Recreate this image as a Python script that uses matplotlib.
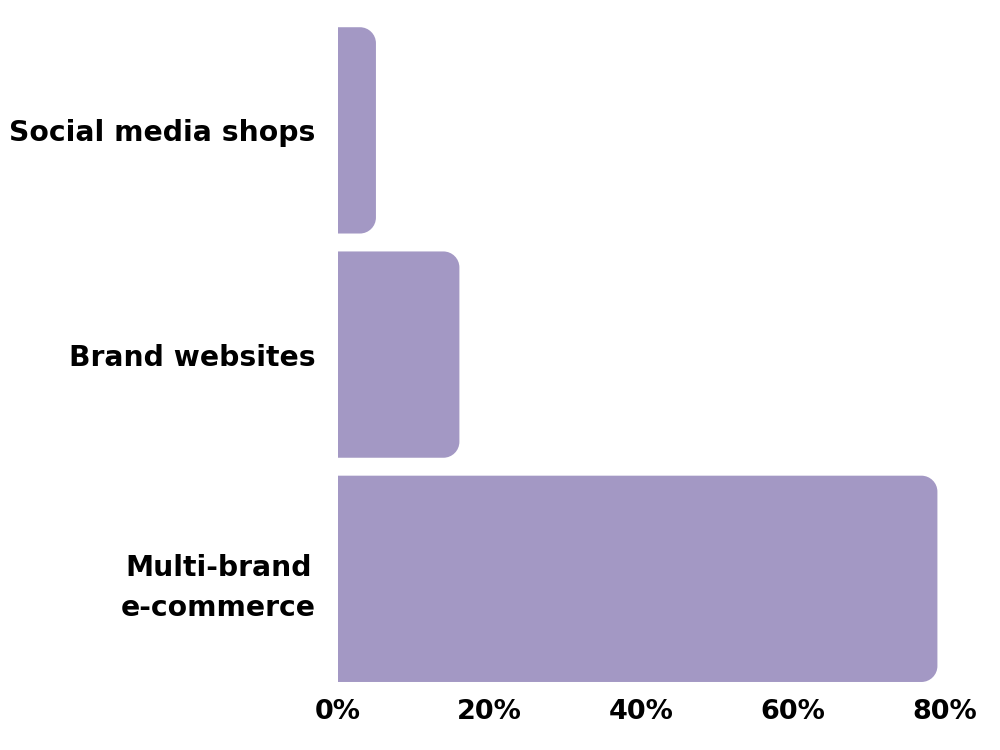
import numpy as np
import matplotlib.pyplot as plt
from matplotlib.path import Path
from matplotlib.patches import PathPatch

categories = ['Social media shops', 'Brand websites', 'Multi-brand\ne-commerce']
values = [5, 16, 79]
ticks = [0, 20, 40, 60, 80]
tick_labels = ['0%', '20%', '40%', '60%', '80%']
color = '#a398c4'

plt.rcParams['font.family'] = ['DejaVu Sans']

fig = plt.figure(figsize=(10, 7.5), dpi=100)
ax = fig.add_axes([0.338, 0.0907, 0.607, 0.873])

ypos = np.arange(len(categories))
bars = ax.barh(ypos, values, height=0.92, color=color)
ax.set_xlim(0, 80)
ax.set_ylim(2.46, -0.46)


def rounded_right(x0, y0, w, h, rx, ry):
    # rectangle with the two right-hand corners rounded
    k = 0.5523
    x1, y1 = x0 + w, y0 + h
    rx = min(rx, w)
    verts = [(x0, y0), (x1 - rx, y0),
             (x1 - rx + k * rx, y0), (x1, y0 + ry - k * ry), (x1, y0 + ry),
             (x1, y1 - ry),
             (x1, y1 - ry + k * ry), (x1 - rx + k * rx, y1), (x1 - rx, y1),
             (x0, y1), (x0, y0)]
    codes = [Path.MOVETO, Path.LINETO,
             Path.CURVE4, Path.CURVE4, Path.CURVE4,
             Path.LINETO,
             Path.CURVE4, Path.CURVE4, Path.CURVE4,
             Path.LINETO, Path.CLOSEPOLY]
    return Path(verts, codes)


# radius ~16px converted to data units
bbox = ax.get_window_extent()
rx = 16 * 80 / bbox.width
ry = 16 * 2.92 / bbox.height
for b in bars:
    p = rounded_right(b.get_x(), b.get_y(), b.get_width(), b.get_height(), rx, ry)
    ax.add_patch(PathPatch(p, facecolor=color, edgecolor='none'))
    b.remove()

ax.set_yticks(ypos)
ax.set_yticklabels(categories, fontsize=20.3, fontweight='bold',
                   multialignment='center', linespacing=1.55)
ax.set_xticks(ticks)
ax.set_xticklabels(tick_labels, fontsize=19.5, fontweight='bold')
ax.tick_params(axis='y', length=0, pad=16)
ax.tick_params(axis='x', length=0, pad=12)
for s in ax.spines.values():
    s.set_visible(False)

fig.savefig('out.png', dpi=100, facecolor='white')
